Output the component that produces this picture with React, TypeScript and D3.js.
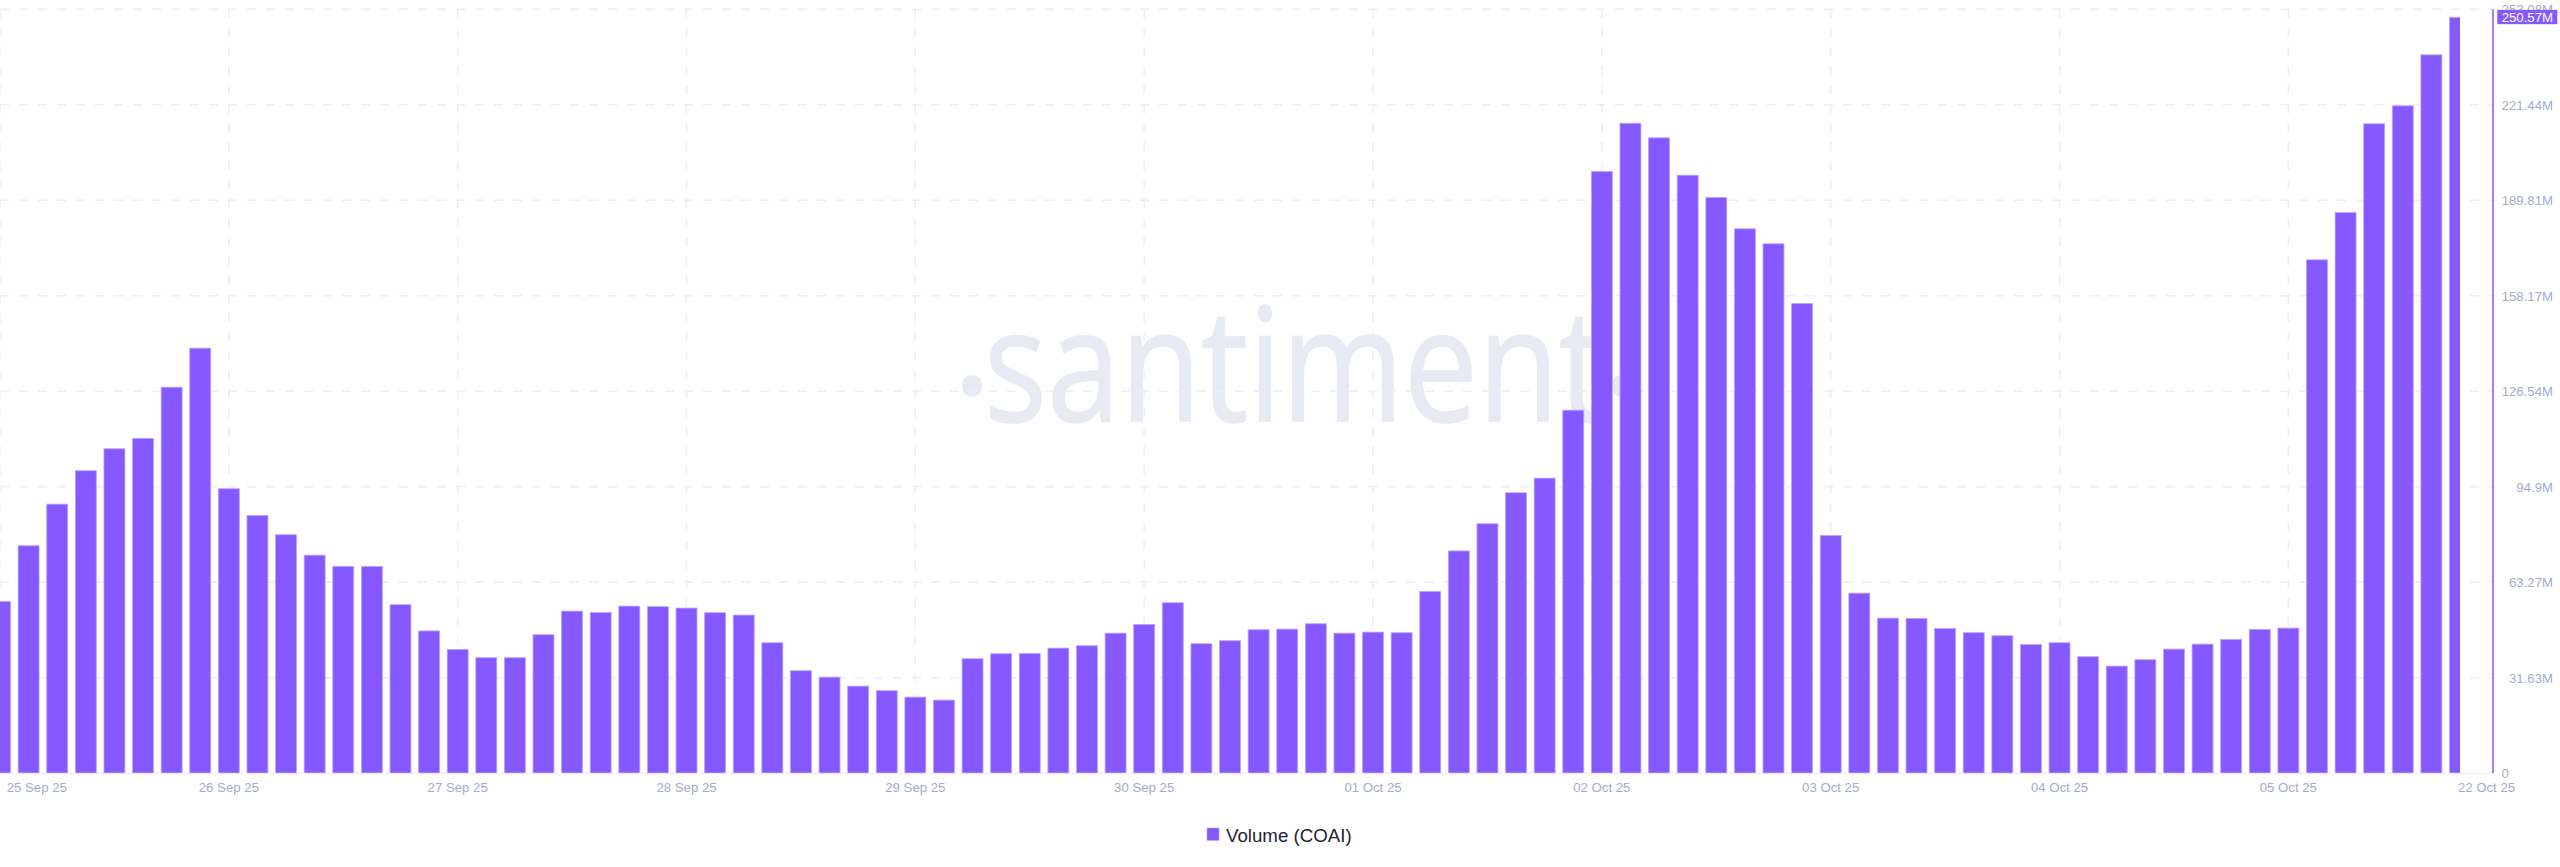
import * as d3 from "d3";

// Volume in millions, one bar per 3h step
const volumes = [
  57.06, 75.51, 89.29, 100.35, 107.63, 111.05, 128.03, 140.95, 94.39, 85.54,
  79.15, 72.4, 68.65, 68.65, 55.97, 47.29, 41.17, 38.42, 38.42, 46.03,
  53.86, 53.43, 55.52, 55.32, 54.86, 53.33, 52.54, 43.38, 34.11, 31.99,
  29.01, 27.49, 25.37, 24.37, 38.09, 39.74, 39.84, 41.6, 42.39, 46.56,
  49.44, 56.63, 43.05, 44.05, 47.69, 47.89, 49.68, 46.56, 46.9, 46.7,
  60.37, 73.79, 82.8, 93.06, 97.9, 120.42, 199.47, 215.47, 210.63, 198.25,
  190.86, 180.49, 175.53, 155.75, 78.92, 59.81, 51.53, 51.43, 48.12, 46.7,
  45.7, 42.82, 43.38, 38.75, 35.64, 37.75, 41.27, 42.92, 44.48, 47.79,
  48.22, 170.23, 185.89, 215.27, 221.23, 238.12, 250.57,
];

const xTickLabels = [
  "25 Sep 25", "26 Sep 25", "27 Sep 25", "28 Sep 25", "29 Sep 25", "30 Sep 25",
  "01 Oct 25", "02 Oct 25", "03 Oct 25", "04 Oct 25", "05 Oct 25",
];
const xTickEvery = 8;
const lastDateLabel = "22 Oct 25";

const yTickValues = [0, 31.63, 63.27, 94.9, 126.54, 158.17, 189.81, 221.44, 253.08];
const yTickLabels = ["0", "31.63M", "63.27M", "94.9M", "126.54M", "158.17M", "189.81M", "221.44M", "253.08M"];

const lastLabel = "250.57M";
const seriesName = "Volume (COAI)";

const WIDTH = 2560;
const HEIGHT = 867;
const AXIS_X = 2493;
const PLOT_RIGHT = 2460;
const BOTTOM = 773.3;
const TOP = 9.3;

const PURPLE = "#8658ff";
const GRID = "#eceef6";
const MUTED = "#a3acc9";
const MARK = "#e7e9f3";
const FONT = "'Liberation Sans', Arial, sans-serif";

const x = d3.scaleLinear().domain([0, volumes.length - 1]).range([0, PLOT_RIGHT]);
const y = d3.scaleLinear().domain([0, 253.08]).range([BOTTOM, TOP]);
const barW = (x(1) - x(0)) * 0.76;

export default function App() {
  return (
    <svg
      width={WIDTH}
      height={HEIGHT}
      style={{ position: "absolute", left: 0, top: 0, background: "#fff", display: "block" }}
    >
      <defs>
        <clipPath id="plot">
          <rect x={0} y={0} width={PLOT_RIGHT} height={BOTTOM} />
        </clipPath>
      </defs>

      {/* watermark sits under the grid, the dots are kept round so they are separate */}
      <g fontFamily="'Open Sans', sans-serif" fontSize={157} fill={MARK} stroke={MARK} strokeWidth={1.5}>
        <text x={972} y={441} textAnchor="middle">·</text>
        <text x={984} y={421} textLength={622} lengthAdjust="spacingAndGlyphs">
          santiment
        </text>
        <text x={1622} y={441} textAnchor="middle">·</text>
      </g>

      {/* grid */}
      <g stroke={GRID} strokeWidth={1.5} strokeDasharray="9 10">
        {yTickValues.slice(1).map((v) => (
          <line key={v} x1={0} x2={AXIS_X} y1={y(v)} y2={y(v)} />
        ))}
        {xTickLabels.map((d, i) => (
          <line key={d} x1={x(i * xTickEvery)} x2={x(i * xTickEvery)} y1={TOP} y2={BOTTOM} />
        ))}
      </g>

      {/* bars */}
      <g clipPath="url(#plot)">
        {volumes.map((v, i) => (
          <rect
            key={i}
            x={x(i) - barW / 2 + 0.4}
            y={y(v) + 0.4}
            width={barW - 0.8}
            height={BOTTOM - y(v) - 0.4}
            fill={PURPLE}
            stroke="#b8a2ff"
            strokeWidth={0.8}
          />
        ))}
      </g>

      {/* axes */}
      <line x1={0} x2={AXIS_X} y1={BOTTOM} y2={BOTTOM} stroke="#e9ebf4" strokeWidth={1} />
      <line x1={AXIS_X} x2={AXIS_X} y1={TOP} y2={BOTTOM} stroke={PURPLE} strokeWidth={1.5} />

      <g fontFamily={FONT} fontSize={13.2} fill={MUTED}>
        {yTickLabels.map((label, i) => (
          <text
            key={label}
            x={label === "0" ? 2501.5 : 2553}
            y={y(yTickValues[i])}
            dy="0.36em"
            textAnchor={label === "0" ? "start" : "end"}
          >
            {label}
          </text>
        ))}
        {xTickLabels.map((d, i) => (
          <text
            key={d}
            x={i === 0 ? 6.7 : x(i * xTickEvery)}
            y={791.5}
            textAnchor={i === 0 ? "start" : "middle"}
          >
            {d}
          </text>
        ))}
        <text x={2486.5} y={791.5} textAnchor="middle">
          {lastDateLabel}
        </text>
      </g>

      {/* last value badge */}
      <rect x={2497.3} y={y(250.57) - 7} width={60} height={14.3} fill={PURPLE} />
      <text x={2501.7} y={y(250.57)} dy="0.36em" fontFamily={FONT} fontSize={13.2} fill="#fff">
        {lastLabel}
      </text>

      {/* legend */}
      <rect x={1207} y={828} width={12} height={12.4} fill={PURPLE} stroke="#b8a2ff" strokeWidth={0.6} />
      <text x={1226} y={835} dy="0.36em" fontFamily={FONT} fontSize={18.7} fill="#1f2233">
        {seriesName}
      </text>
    </svg>
  );
}
